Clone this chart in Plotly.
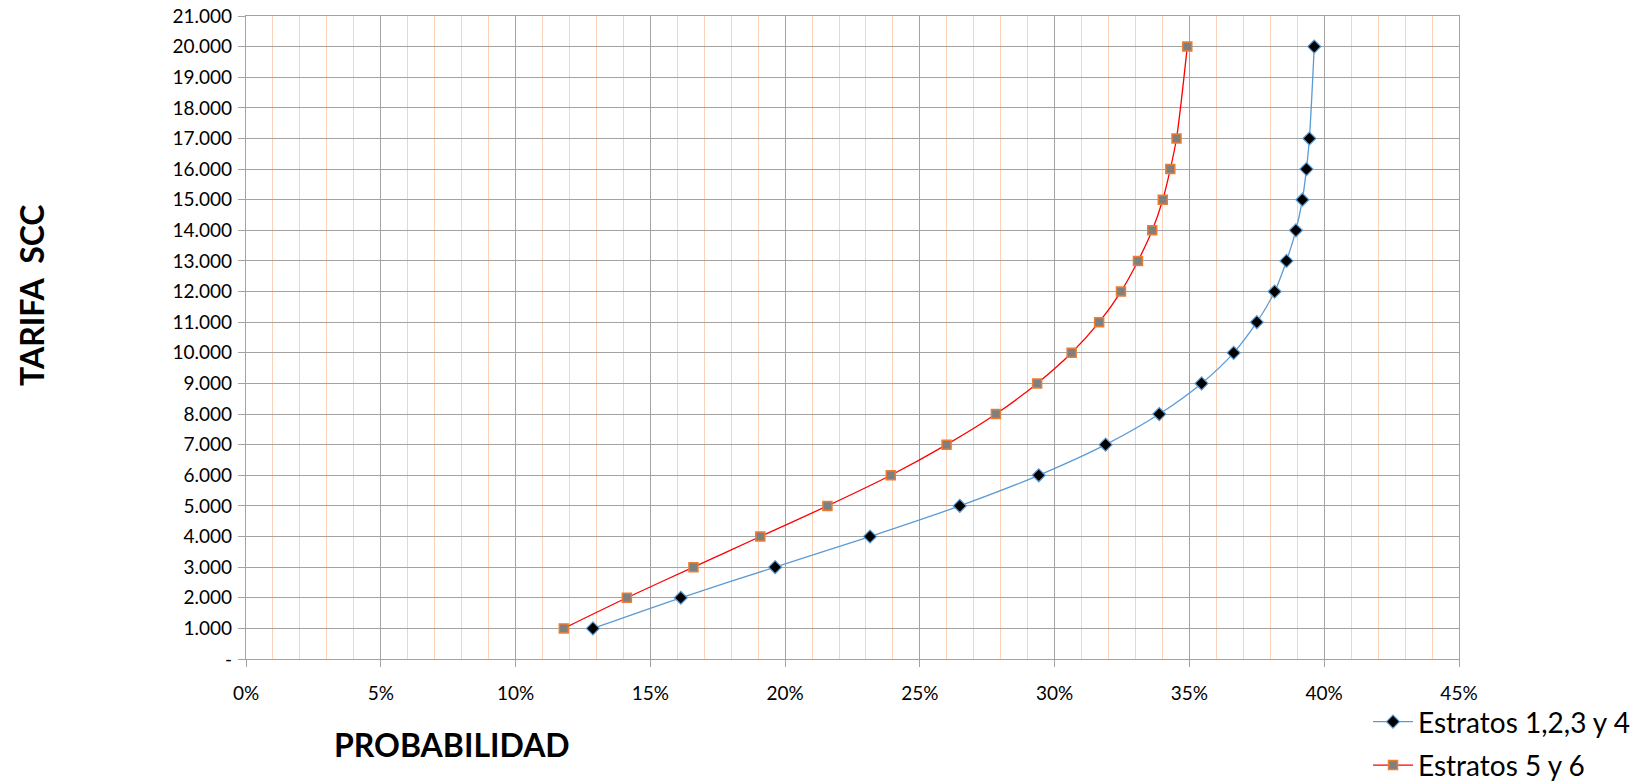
import plotly.graph_objects as go

# Tariff levels (SCC) and the probability (%) for each customer group
tarifa = [1000, 2000, 3000, 4000, 5000, 6000, 7000, 8000, 9000, 10000,
          11000, 12000, 13000, 14000, 15000, 16000, 17000, 20000]
prob_estratos_1_4 = [12.87, 16.13, 19.63, 23.15, 26.48, 29.41, 31.89, 33.88, 35.45,
                     36.64, 37.50, 38.16, 38.60, 38.95, 39.19, 39.34, 39.45, 39.63]
prob_estratos_5_6 = [11.79, 14.13, 16.60, 19.08, 21.57, 23.92, 25.99, 27.82, 29.35,
                     30.63, 31.65, 32.46, 33.09, 33.62, 34.01, 34.29, 34.52, 34.92]

serie_nombres = ["Estratos 1,2,3 y 4", "Estratos 5 y 6"]

x_tick_vals = [0, 5, 10, 15, 20, 25, 30, 35, 40, 45]
x_tick_text = ["0%", "5%", "10%", "15%", "20%", "25%", "30%", "35%", "40%", "45%"]
y_tick_vals = list(range(0, 21001, 1000))
y_tick_text = ["-"] + [f"{v // 1000}.000" for v in y_tick_vals[1:]]

FONT = "Lato"
GRID = "#A3A3A3"
MINOR = "#F9D2B8"

# plot-area geometry in pixels
W, H = 1644, 781
L, R, T, B = 246, 185, 16, 122
PW, PH = W - L - R, H - T - B


def px_to_paper(px, py):
    return (px - L) / PW, (H - B - py) / PH


fig = go.Figure()
fig.add_trace(go.Scatter(
    x=prob_estratos_1_4, y=tarifa, name=serie_nombres[0], mode="lines+markers",
    legendgroup="a",
    line=dict(color="#5B9BD5", width=1.3, shape="spline", smoothing=0.8),
    marker=dict(symbol="diamond", size=10, color="#000000",
                line=dict(color="#5B9BD5", width=1.2)),
))
fig.add_trace(go.Scatter(
    x=prob_estratos_5_6, y=tarifa, name=serie_nombres[1], mode="lines+markers",
    legendgroup="b",
    line=dict(color="#FF0000", width=1.3, shape="spline", smoothing=0.8),
    marker=dict(symbol="square", size=9, color="#7F7F7F",
                line=dict(color="#ED7D31", width=1.5)),
))

lx, ly = px_to_paper(1368, 697)
px_x, px_y = px_to_paper(452, 744)
ty_x, ty_y = px_to_paper(31, 295)

fig.update_layout(
    width=W, height=H,
    margin=dict(l=L, r=R, t=T, b=B, autoexpand=False),
    paper_bgcolor="white", plot_bgcolor="white",
    font=dict(family=FONT, size=19, color="#000000"),
    showlegend=True,
    legend=dict(x=lx, y=ly, xanchor="left", yanchor="top",
                font=dict(family=FONT, size=28, color="#000000"),
                bgcolor="rgba(0,0,0,0)", tracegroupgap=4, itemwidth=40),
    annotations=[
        dict(text="<b>PROBABILIDAD</b>", xref="paper", yref="paper",
             x=px_x, y=px_y, showarrow=False,
             xanchor="center", yanchor="middle",
             font=dict(family=FONT, size=32, color="#000000")),
        dict(text="<b>TARIFA\u00a0\u00a0SCC</b>", xref="paper", yref="paper",
             x=ty_x, y=ty_y, showarrow=False,
             xanchor="center", yanchor="middle", textangle=-90,
             font=dict(family=FONT, size=32, color="#000000")),
    ],
)

fig.update_xaxes(
    range=[0, 45], tickvals=x_tick_vals, ticktext=x_tick_text,
    showgrid=True, gridcolor=GRID, gridwidth=1.3,
    minor=dict(dtick=1, showgrid=True, gridcolor=MINOR, gridwidth=1.3,
               ticks=""),
    showline=True, linecolor=GRID, linewidth=1.3, mirror=True,
    ticks="outside", ticklen=7, tickcolor=GRID, tickwidth=1.3,
    zeroline=False, ticklabelstandoff=10,
    tickfont=dict(family=FONT, size=19, color="#000000"),
)
fig.update_yaxes(
    range=[0, 21000], tickvals=y_tick_vals, ticktext=y_tick_text,
    showgrid=True, gridcolor=GRID, gridwidth=1.3,
    showline=True, linecolor=GRID, linewidth=1.3, mirror=True,
    ticks="outside", ticklen=7, tickcolor=GRID, tickwidth=1.3,
    zeroline=False, ticklabelstandoff=2,
    tickfont=dict(family=FONT, size=19, color="#000000"),
)

fig.write_html("out.html")
